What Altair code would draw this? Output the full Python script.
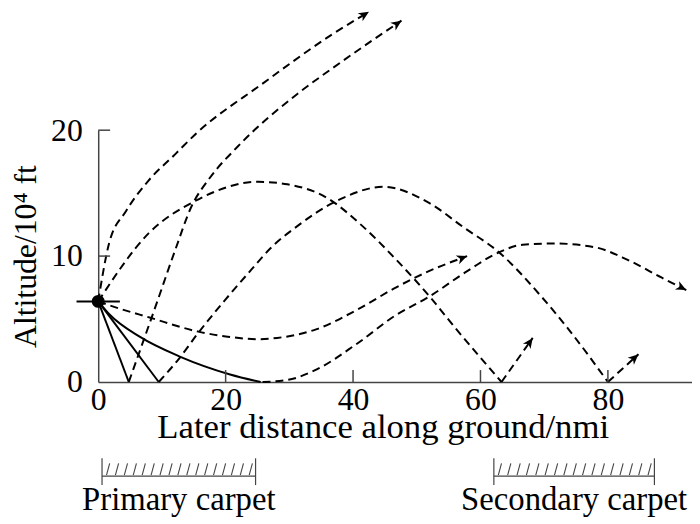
import math
import altair as alt
import numpy as np
import pandas as pd

# ---------------- data ----------------
x_ticks = [0, 20, 40, 60, 80]
y_ticks = [0, 10, 20]
x_title = "Later distance along ground/nmi"
y_title = "Altitude/10\u2074 ft"

launch_x = [0.0]
launch_y = [6.4]
wing_x = [-3.4, 3.4]

# solid trajectories (impact in primary carpet)
s1_x = [0, 4.8]
s1_y = [6.4, 0]
s2_x = [0, 9.5]
s2_y = [6.4, 0]
s3_x = [0, 1.7, 6.5, 12.9, 20.7, 25.5]
s3_y = [6.4, 5.4, 3.6, 2.0, 0.6, 0]

# dashed trajectories
u1_x = [0, 1.7, 4.4, 7.9, 12.1, 15.3, 25.8, 36.7, 42.5]
u1_y = [6.4, 11.0, 13.6, 16.0, 18.1, 19.7, 23.7, 27.6, 29.4]
u2_x = [4.8, 9.0, 12.1, 14.6, 17.5, 21.9, 31.3, 36.7, 47.6]
u2_y = [0, 6.0, 10.5, 13.9, 16.2, 18.7, 22.9, 24.9, 28.7]
a1_x = [0, 7.9, 15.3, 25.1, 29.7, 36.0, 41.0, 46.8, 52.0, 56.2, 63.3]
a1_y = [6.4, 11.8, 14.4, 15.9, 15.7, 14.6, 12.6, 9.7, 6.8, 4.2, 0]
a2_x = [9.5, 12.6, 15.7, 19.9, 24.0, 27.0, 31.3, 37.5, 44.8, 52.0, 57.3, 62.9, 69.7, 73.8, 80.0]
a2_y = [0, 1.8, 3.9, 6.5, 8.9, 10.6, 12.4, 14.4, 15.5, 14.2, 12.3, 10.3, 6.7, 4.2, 0]
a3_x = [25.8, 29.6, 34.3, 40.5, 46.7, 52.0, 57.6, 62.9, 66.6, 71.7, 78.0, 83.1, 88.4, 92.3]
a3_y = [0, 0.15, 1.0, 3.0, 5.3, 6.8, 8.7, 10.3, 10.9, 11.0, 10.7, 9.7, 8.3, 7.3]
l_x = [0, 1.7, 8.2, 15.7, 20.3, 25.0, 28.1, 34.3, 40.5, 46.7, 51.9, 57.9]
l_y = [6.4, 6.1, 5.1, 4.0, 3.6, 3.4, 3.5, 4.2, 5.7, 7.5, 8.8, 10.0]
b1_x = [63.3, 68.2]
b1_y = [0, 3.5]
b2_x = [80.0, 84.8]
b2_y = [0, 2.2]

carpet_names = ["Primary carpet", "Secondary carpet"]
carpet_start = [0.6, 62.1]
carpet_end = [24.7, 87.3]
hatch_count = 17

# ---------------- layout ----------------
X_MAX = 93.2
W, H = 599, 254
KX, KY = W / X_MAX, H / 20.0
FONT = "Liberation Serif"
AX_COL = "#444444"

xs = alt.Scale(domain=[0, X_MAX], nice=False, zero=False)
ys = alt.Scale(domain=[0, 20], nice=False, zero=False)
x_axis = alt.Axis(values=x_ticks, ticks=False, grid=False, domainColor=AX_COL, domainWidth=1.5,
                  labelFont=FONT, labelFontSize=32, labelColor="black", labelPadding=3,
                  labelFlush=False, title=x_title, titleFont=FONT, titleFontSize=35,
                  titleFontWeight="normal", titleColor="black", titlePadding=-6,
                  titleX=287)
y_axis = alt.Axis(values=y_ticks, ticks=False, grid=False, domainColor=AX_COL, domainWidth=1.5,
                  labelFont=FONT, labelFontSize=32, labelColor="black", labelPadding=16,
                  labelFlush=False, title=y_title, titleFont=FONT, titleFontSize=32,
                  titleFontWeight="normal", titleColor="black", titlePadding=8)


def X(f):
    return alt.X(f, type="quantitative", scale=xs, axis=x_axis)


def Y(f):
    return alt.Y(f, type="quantitative", scale=ys, axis=y_axis)


def frame(curves):
    rows = []
    for cid, (cx, cy) in curves.items():
        for i, (a, b) in enumerate(zip(cx, cy)):
            rows.append({"id": cid, "i": i, "x": a, "y": b})
    return pd.DataFrame(rows)


solid_df = frame({"s1": (s1_x, s1_y), "s2": (s2_x, s2_y), "s3": (s3_x, s3_y)})
dashed_df = frame({"u1": (u1_x, u1_y), "u2": (u2_x, u2_y), "a1": (a1_x, a1_y),
                   "a2": (a2_x, a2_y), "a3": (a3_x, a3_y), "l": (l_x, l_y)})
bounce_df = frame({"b1": (b1_x, b1_y), "b2": (b2_x, b2_y)})

# arrowheads at the end of the dashed paths
arrow_rows = []
for cx, cy in [(u1_x, u1_y), (u2_x, u2_y), (a3_x, a3_y), (l_x, l_y), (b1_x, b1_y), (b2_x, b2_y)]:
    dx = (cx[-1] - cx[-2]) * KX
    dy = (cy[-1] - cy[-2]) * KY
    ang = (-math.degrees(math.atan2(dy, dx))) % 360
    arrow_rows.append({"x": cx[-1], "y": cy[-1], "angle": ang})
arrow_df = pd.DataFrame(arrow_rows)
ARROW = "M0,0 L-1,-0.45 L-0.72,0 L-1,0.45 Z"

solid = alt.Chart(solid_df).mark_line(color="black", strokeWidth=2, interpolate="monotone",
                                       clip=False).encode(
    x=X("x"), y=Y("y"), detail="id:N", order="i:Q")
dashed = alt.Chart(dashed_df).mark_line(color="black", strokeWidth=2, strokeDash=[8, 5],
                                         interpolate="monotone", clip=False).encode(
    x=X("x"), y=Y("y"), detail="id:N", order="i:Q")
bounce = alt.Chart(bounce_df).mark_line(color="black", strokeWidth=2, strokeDash=[8, 5],
                                         clip=False).encode(
    x=X("x"), y=Y("y"), detail="id:N", order="i:Q")
arrows = alt.Chart(arrow_df).mark_point(shape=ARROW, filled=True, color="black", size=440,
                                         opacity=1, strokeWidth=0, clip=False).encode(
    x=X("x"), y=Y("y"), angle=alt.Angle("angle:Q", scale=None))

wing = alt.Chart(pd.DataFrame({"x": [wing_x[0]], "x2": [wing_x[1]], "y": launch_y})).mark_rule(
    color="black", strokeWidth=2, clip=False).encode(x=X("x"), x2="x2:Q", y=Y("y"))
dot = alt.Chart(pd.DataFrame({"x": launch_x, "y": launch_y})).mark_circle(
    color="black", size=170, opacity=1, clip=False).encode(x=X("x"), y=Y("y"))

# inward ticks
xt = alt.Chart(pd.DataFrame({"v": x_ticks[1:]})).mark_rule(color=AX_COL, strokeWidth=1.5).encode(
    x=X("v"), y=alt.value(H), y2=alt.value(H - 12))
yt = alt.Chart(pd.DataFrame({"v": y_ticks[1:]})).mark_rule(color=AX_COL, strokeWidth=1.5).encode(
    y=Y("v"), x=alt.value(0), x2=alt.value(12))

# carpets
cdf = pd.DataFrame({"name": carpet_names, "a": carpet_start, "b": carpet_end,
                    "mid": [(s + e) / 2 for s, e in zip(carpet_start, carpet_end)]})
hrows = []
for s, e in zip(carpet_start, carpet_end):
    for p in np.linspace(s + 0.7, e - 1.0, hatch_count):
        hrows.append({"x": p, "x2": p + 0.5})
hdf = pd.DataFrame(hrows)
ends = pd.DataFrame({"x": carpet_start + carpet_end})

c_line = alt.Chart(cdf).mark_rule(color=AX_COL, strokeWidth=1.2, clip=False).encode(
    x=X("a"), x2="b:Q", y=alt.value(349))
c_ends = alt.Chart(ends).mark_rule(color=AX_COL, strokeWidth=1.2, clip=False).encode(
    x=X("x"), y=alt.value(331), y2=alt.value(358))
c_hatch = alt.Chart(hdf).mark_rule(color=AX_COL, strokeWidth=1.1, clip=False).encode(
    x=X("x"), x2="x2:Q", y=alt.value(348), y2=alt.value(336))
c_text = alt.Chart(cdf).mark_text(font=FONT, fontSize=33, color="black", baseline="alphabetic",
                                  clip=False).encode(x=X("mid"), y=alt.value(383), text="name:N")

chart = alt.layer(solid, dashed, bounce, arrows, wing, dot, xt, yt,
                  c_line, c_ends, c_hatch, c_text).properties(
    width=W, height=H,
    autosize=alt.AutoSizeParams(type="none"),
    padding={"left": 91, "top": 121, "right": 0, "bottom": 141},
).configure_view(stroke=None)

chart.save("out.html", embed_options={"renderer": "svg", "actions": False})
